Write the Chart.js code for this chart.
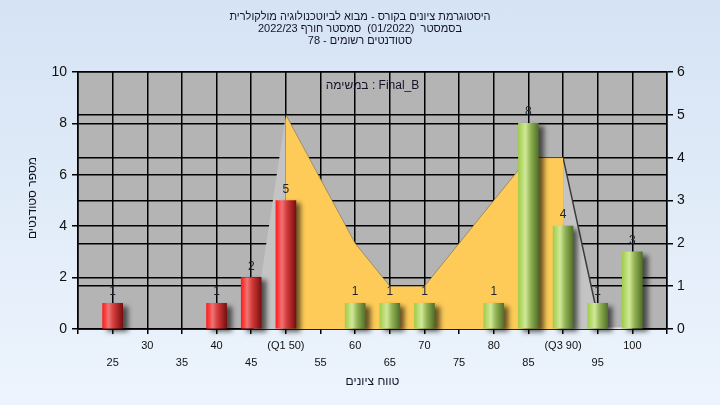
<!DOCTYPE html>
<html>
<head>
<meta charset="utf-8">
<script src="https://cdn.jsdelivr.net/npm/chart.js@4.4.0/dist/chart.umd.min.js"></script>
<style>
  html, body { margin: 0; padding: 0; }
  body { width: 720px; height: 405px; background: linear-gradient(#d5e3f4, #edf4fd); }
  canvas { display: block; }
</style>
</head>
<body>
<canvas id="chart" width="720" height="405"></canvas>
<script>
// ── Data ──────────────────────────────────────────────
const scores = [25, 30, 35, 40, 45, 50, 55, 60, 65, 70, 75, 80, 85, 90, 95, 100];
const counts = [1, 0, 0, 1, 2, 5, 0, 1, 1, 1, 0, 1, 8, 4, 1, 3];
const greenFrom = 55;               // bars from this score on are green

// "Final_B" area (right axis)
const finalScores = [50, 55, 60, 65, 70, 75, 80, 85, 90];
const finalValues = [5, 3.5, 2, 1, 1, 2, 3, 4, 4];

// side faces of the 3D area
const leftFaceX  = [45.3, 50];
const leftFaceY  = [0, 5];
const rightFaceX = [90, 94.6, 95.3, 100];
const rightFaceY = [4, 0.6, 0.02, 0.02];

const specialTicks = { 50: '(Q1 50)', 90: '(Q3 90)' };

const titleLines = [
  'היסטוגרמת ציונים בקורס - מבוא לביוטכנולוגיה מולקולרית',
  'בסמסטר  (01/2022)  סמסטר חורף 2022/23',
  'סטודנטים רשומים - 78'
];
const xTitle = 'טווח ציונים';
const yTitle = 'מספר סטודנטים';
const seriesNote = 'Final_B : במשימה';

// ── Helpers ───────────────────────────────────────────
const rtl = s => '\u202B' + s + '\u202C';
const FONT = "'Liberation Sans', Arial, 'DejaVu Sans', sans-serif";

function barGradient(c, stops) {
  const xs = c.chart.scales.x;
  if (!xs || c.type !== 'data' || !c.raw) return stops[1][1];
  const px = xs.getPixelForValue(c.raw.x);
  if (!isFinite(px)) return stops[1][1];
  const g = c.chart.ctx.createLinearGradient(px - 10, 0, px + 10, 0);
  stops.forEach(([o, col]) => g.addColorStop(o, col));
  return g;
}
const redStops = [[0, '#ff1c1c'], [0.3, '#f07474'], [0.55, '#d33a3a'], [1, '#7a0f0f']];
const greenStops = [[0, '#a2cd4c'], [0.35, '#d0e898'], [0.6, '#93b455'], [1, '#52702a']];

const points = scores.map((s, i) => ({ x: s, y: counts[i] })).filter(p => p.y > 0);
const redData = points.filter(p => p.x < greenFrom);
const greenData = points.filter(p => p.x >= greenFrom);

// ── Decoration plugin ─────────────────────────────────
const decor = {
  id: 'decor',
  beforeDraw(chart) {
    const { ctx, chartArea: a } = chart;
    ctx.save();
    ctx.fillStyle = '#b4b4b4';
    ctx.fillRect(a.left, a.top, a.right - a.left, a.bottom - a.top);
    ctx.restore();
  },
  beforeDatasetDraw(chart, args) {
    if (args.meta.type !== 'bar') return;
    const ctx = chart.ctx;
    ctx.save();
    ctx.shadowColor = 'rgba(0,0,0,0.6)';
    ctx.shadowBlur = 5;
    ctx.shadowOffsetX = 5;
    ctx.shadowOffsetY = 3;
  },
  afterDatasetDraw(chart, args) {
    if (args.meta.type !== 'bar') return;
    chart.ctx.restore();
  },
  afterDatasetsDraw(chart) {
    const ctx = chart.ctx;
    ctx.save();
    ctx.font = '12px ' + FONT;
    ctx.fillStyle = '#1c2430';
    ctx.textAlign = 'center';
    ctx.textBaseline = 'alphabetic';
    chart.data.datasets.forEach((ds, di) => {
      const meta = chart.getDatasetMeta(di);
      if (meta.type !== 'bar') return;
      meta.data.forEach((el, i) => {
        const v = ds.data[i].y;
        if (v > 0) ctx.fillText(String(v), el.x, el.y - 8);
      });
    });
    ctx.restore();
  },
  afterDraw(chart) {
    const { ctx, chartArea: a } = chart;
    ctx.save();
    ctx.fillStyle = '#141428';
    ctx.textAlign = 'center';
    ctx.textBaseline = 'middle';
    ctx.font = '11px ' + FONT;
    titleLines.forEach((t, i) => ctx.fillText(rtl(t), 360, 17 + i * 12));
    ctx.font = '12px ' + FONT;
    ctx.fillText(rtl(seriesNote), (a.left + a.right) / 2, 86);
    ctx.fillText(rtl(xTitle), (a.left + a.right) / 2, 382);
    ctx.translate(33, 198);
    ctx.rotate(-Math.PI / 2);
    ctx.fillText(rtl(yTitle), 0, 0);
    ctx.restore();
  }
};

// ── Chart ─────────────────────────────────────────────
const gridStyle = { color: '#000', lineWidth: 1.5, tickLength: 6 };

new Chart(document.getElementById('chart'), {
  type: 'bar',
  data: {
    datasets: [
      {
        label: 'low', data: redData, yAxisID: 'y', order: 1, grouped: false,
        backgroundColor: c => barGradient(c, redStops),
        barThickness: 20, clip: false
      },
      {
        label: 'high', data: greenData, yAxisID: 'y', order: 1, grouped: false,
        backgroundColor: c => barGradient(c, greenStops),
        barThickness: 20, clip: false
      },
      {
        type: 'line', label: 'Final_B', yAxisID: 'y1', order: 2,
        data: finalScores.map((s, i) => ({ x: s, y: finalValues[i] })),
        backgroundColor: '#fecb58', borderColor: 'rgba(110,100,80,0.55)', borderWidth: 1,
        fill: 'origin', pointRadius: 0, tension: 0
      },
      {
        type: 'line', label: 'left face', yAxisID: 'y1', order: 3,
        data: leftFaceX.map((x, i) => ({ x, y: leftFaceY[i] })),
        backgroundColor: '#c4c4c4', borderWidth: 0, fill: 'origin', pointRadius: 0
      },
      {
        type: 'line', label: 'right face', yAxisID: 'y1', order: 3,
        data: rightFaceX.map((x, i) => ({ x, y: rightFaceY[i] })),
        backgroundColor: '#c4c4c4', borderWidth: 1.5, fill: 'origin', pointRadius: 0,
        segment: { borderColor: s => s.p0DataIndex === 0 ? '#3a3a3a' : 'rgba(240,240,240,0.9)' }
      }
    ]
  },
  options: {
    responsive: false,
    animation: false,
    layout: { padding: { top: 72, left: 0, right: 0, bottom: 0 } },
    plugins: { legend: { display: false }, tooltip: { enabled: false } },
    scales: {
      x: {
        type: 'linear', min: 20, max: 105, offset: false,
        grid: { ...gridStyle, tickLength: 5, offset: false },
        border: { color: '#000', width: 1.5 },
        ticks: {
          stepSize: 5, autoSkip: false, maxRotation: 0, padding: 3,
          color: '#111', font: { size: 11, family: FONT, lineHeight: 1.55 },
          callback: v => {
            if (v <= 20 || v >= 105) return '';
            const label = specialTicks[v] || String(v);
            return (v / 5) % 2 === 0 ? [label, ''] : ['', label];
          }
        },
        afterFit: s => { s.height = 76; }
      },
      y: {
        position: 'left', min: 0, max: 10,
        grid: gridStyle,
        border: { color: '#000', width: 1.5 },
        ticks: { stepSize: 2, padding: 5, color: '#111', font: { size: 14, family: FONT } },
        afterFit: s => { s.width = 78; }
      },
      y1: {
        position: 'right', min: 0, max: 6,
        grid: gridStyle,
        border: { color: '#000', width: 1.5 },
        ticks: { stepSize: 1, padding: 4, color: '#111', font: { size: 14, family: FONT } },
        afterFit: s => { s.width = 53; }
      }
    }
  },
  plugins: [decor]
});
</script>
</body>
</html>
